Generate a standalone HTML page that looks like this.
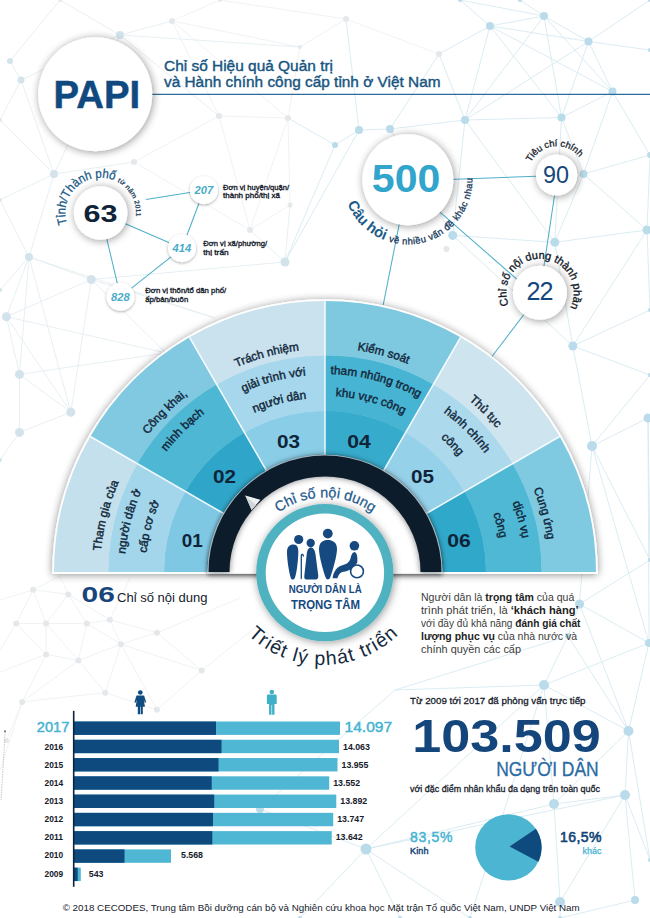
<!DOCTYPE html>
<html><head><meta charset="utf-8"><title>PAPI</title>
<style>
html,body{margin:0;padding:0;background:#fff;}
body{width:650px;height:918px;overflow:hidden;font-family:"Liberation Sans",sans-serif;}
svg{display:block;font-family:"Liberation Sans",sans-serif;}
</style></head><body>
<svg width="650" height="918" viewBox="0 0 650 918">
<defs>
<filter id="sh" x="-30%" y="-30%" width="160%" height="160%"><feGaussianBlur in="SourceAlpha" stdDeviation="4"/><feOffset dx="0.5" dy="1"/><feComponentTransfer><feFuncA type="linear" slope="0.42"/></feComponentTransfer><feMerge><feMergeNode/><feMergeNode in="SourceGraphic"/></feMerge></filter>
<filter id="sh3" x="-40%" y="-40%" width="180%" height="180%"><feGaussianBlur in="SourceAlpha" stdDeviation="1.6"/><feOffset dx="0" dy="0.5"/><feComponentTransfer><feFuncA type="linear" slope="0.35"/></feComponentTransfer><feMerge><feMergeNode/><feMergeNode in="SourceGraphic"/></feMerge></filter>
<filter id="sh4" x="-10%" y="-10%" width="120%" height="140%"><feGaussianBlur in="SourceAlpha" stdDeviation="2.2"/><feOffset dx="0" dy="1.5"/><feComponentTransfer><feFuncA type="linear" slope="0.55"/></feComponentTransfer><feMerge><feMergeNode/><feMergeNode in="SourceGraphic"/></feMerge></filter>
<filter id="sh5" x="-10%" y="-20%" width="120%" height="140%"><feGaussianBlur in="SourceAlpha" stdDeviation="3"/><feComponentTransfer><feFuncA type="linear" slope="0.5"/></feComponentTransfer><feMerge><feMergeNode/><feMergeNode in="SourceGraphic"/></feMerge></filter>
<filter id="sh2" x="-10%" y="-10%" width="120%" height="135%"><feGaussianBlur in="SourceAlpha" stdDeviation="4.2"/><feOffset dx="0" dy="1.2"/><feComponentTransfer><feFuncA type="linear" slope="0.45"/></feComponentTransfer><feMerge><feMergeNode/><feMergeNode in="SourceGraphic"/></feMerge></filter>

<path id="s00" d="M103.77 613A225 225 0 0 1 151.38 428.88"/>
<path id="s01" d="M127.86 608.54A200.5 200.5 0 0 1 170.29 444.47"/>
<path id="s02" d="M148.51 604.71A179.5 179.5 0 0 1 186.49 457.82"/>
<path id="s10" d="M114.51 495.39A224 224 0 0 1 248.39 361.51"/>
<path id="s11" d="M138 503.94A199 199 0 0 1 256.94 385"/>
<path id="s12" d="M159.61 511.8A176 176 0 0 1 264.8 406.61"/>
<path id="s20" d="M181.66 401.17A223 223 0 0 1 363.72 352.39"/>
<path id="s21" d="M198.05 420.71A197.5 197.5 0 0 1 359.3 377.5"/>
<path id="s22" d="M212.96 438.48A174.3 174.3 0 0 1 355.27 400.35"/>
<path id="s30" d="M286.1 351.4A224 224 0 0 1 468.98 400.41"/>
<path id="s31" d="M290.62 377.01A198 198 0 0 1 452.27 420.32"/>
<path id="s32" d="M294.44 398.67A176 176 0 0 1 438.13 437.18"/>
<path id="s40" d="M401.61 361.51A224 224 0 0 1 535.49 495.39"/>
<path id="s41" d="M393.06 385A199 199 0 0 1 512 503.94"/>
<path id="s42" d="M385.54 405.67A177 177 0 0 1 491.33 511.46"/>
<path id="s50" d="M496.98 427.69A224.5 224.5 0 0 1 546.09 610.98"/>
<path id="s51" d="M478.21 443.44A200 200 0 0 1 521.96 606.73"/>
<path id="s52" d="M461.36 457.58A178 178 0 0 1 500.3 602.91"/>
</defs>
<rect width="650" height="918" fill="#ffffff"/>
<g fill="none" stroke-width="0.9">
<line x1="60" y1="0" x2="120" y2="35" stroke="#e4edf2"/>
<line x1="120" y1="35" x2="172" y2="21" stroke="#e4edf2"/>
<line x1="120" y1="35" x2="21" y2="80" stroke="#e4edf2"/>
<line x1="10" y1="61" x2="21" y2="80" stroke="#e4edf2"/>
<line x1="21" y1="80" x2="54" y2="174" stroke="#e4edf2"/>
<line x1="10" y1="61" x2="60" y2="0" stroke="#e4edf2"/>
<line x1="120" y1="35" x2="219" y2="116" stroke="#e4edf2"/>
<line x1="172" y1="21" x2="220" y2="0" stroke="#eef0f2"/>
<line x1="172" y1="21" x2="300" y2="47" stroke="#eef0f2"/>
<line x1="172" y1="21" x2="219" y2="116" stroke="#eef0f2"/>
<line x1="219" y1="116" x2="288" y2="118" stroke="#eef0f2"/>
<line x1="300" y1="47" x2="288" y2="118" stroke="#eef0f2"/>
<line x1="219" y1="116" x2="134" y2="162" stroke="#eef0f2"/>
<line x1="134" y1="162" x2="54" y2="174" stroke="#e4edf2"/>
<line x1="54" y1="174" x2="0" y2="120" stroke="#e4edf2"/>
<line x1="21" y1="80" x2="0" y2="120" stroke="#e4edf2"/>
<line x1="120" y1="35" x2="54" y2="174" stroke="#e4edf2"/>
<line x1="288" y1="118" x2="290" y2="205" stroke="#eef0f2"/>
<line x1="219" y1="116" x2="250" y2="230" stroke="#eef0f2"/>
<line x1="250" y1="230" x2="290" y2="205" stroke="#eef0f2"/>
<line x1="250" y1="230" x2="285" y2="262" stroke="#e4edf2"/>
<line x1="290" y1="205" x2="285" y2="262" stroke="#e4edf2"/>
<line x1="288" y1="118" x2="335" y2="145" stroke="#d6eaf2"/>
<line x1="300" y1="47" x2="346" y2="19" stroke="#eef0f2"/>
<line x1="220" y1="0" x2="346" y2="19" stroke="#eef0f2"/>
<line x1="134" y1="162" x2="250" y2="230" stroke="#eef0f2"/>
<line x1="54" y1="174" x2="0" y2="200" stroke="#e4edf2"/>
<line x1="54" y1="174" x2="29" y2="257" stroke="#e4edf2"/>
<line x1="0" y1="200" x2="29" y2="257" stroke="#e4edf2"/>
<line x1="288" y1="118" x2="250" y2="230" stroke="#eef0f2"/>
<line x1="172" y1="21" x2="288" y2="118" stroke="#eef0f2"/>
<line x1="120" y1="35" x2="300" y2="47" stroke="#e4edf2"/>
<line x1="346" y1="19" x2="439" y2="54" stroke="#eef0f2"/>
<line x1="439" y1="54" x2="490" y2="26" stroke="#d6eaf2"/>
<line x1="490" y1="26" x2="544" y2="16" stroke="#d6eaf2"/>
<line x1="544" y1="16" x2="588.5" y2="41.5" stroke="#d6eaf2"/>
<line x1="588.5" y1="41.5" x2="612.5" y2="91.5" stroke="#d6eaf2"/>
<line x1="490" y1="26" x2="465" y2="120" stroke="#d6eaf2"/>
<line x1="490" y1="26" x2="588.5" y2="41.5" stroke="#d6eaf2"/>
<line x1="544" y1="16" x2="561.5" y2="117.5" stroke="#d6eaf2"/>
<line x1="588.5" y1="41.5" x2="561.5" y2="117.5" stroke="#d6eaf2"/>
<line x1="490" y1="26" x2="561.5" y2="117.5" stroke="#d6eaf2"/>
<line x1="612.5" y1="91.5" x2="561.5" y2="117.5" stroke="#d6eaf2"/>
<line x1="561.5" y1="117.5" x2="583.5" y2="174" stroke="#d6eaf2"/>
<line x1="465" y1="120" x2="561.5" y2="117.5" stroke="#d6eaf2"/>
<line x1="465" y1="120" x2="390" y2="129" stroke="#d6eaf2"/>
<line x1="390" y1="129" x2="359" y2="130" stroke="#d6eaf2"/>
<line x1="359" y1="130" x2="335" y2="145" stroke="#d6eaf2"/>
<line x1="439" y1="54" x2="465" y2="120" stroke="#d6eaf2"/>
<line x1="439" y1="54" x2="390" y2="129" stroke="#d6eaf2"/>
<line x1="346" y1="19" x2="359" y2="130" stroke="#d6eaf2"/>
<line x1="612.5" y1="91.5" x2="650" y2="155" stroke="#d6eaf2"/>
<line x1="588.5" y1="41.5" x2="650" y2="50" stroke="#d6eaf2"/>
<line x1="544" y1="16" x2="460" y2="0" stroke="#d6eaf2"/>
<line x1="490" y1="26" x2="460" y2="0" stroke="#d6eaf2"/>
<line x1="544" y1="16" x2="520" y2="0" stroke="#d6eaf2"/>
<line x1="588.5" y1="41.5" x2="650" y2="0" stroke="#d6eaf2"/>
<line x1="583.5" y1="174" x2="650" y2="155" stroke="#d6eaf2"/>
<line x1="583.5" y1="174" x2="554.8" y2="242.3" stroke="#d6eaf2"/>
<line x1="583.5" y1="174" x2="647" y2="230" stroke="#d6eaf2"/>
<line x1="465" y1="120" x2="452.7" y2="235.4" stroke="#d6eaf2"/>
<line x1="465" y1="120" x2="554.8" y2="242.3" stroke="#d6eaf2"/>
<line x1="452.7" y1="235.4" x2="554.8" y2="242.3" stroke="#d6eaf2"/>
<line x1="554.8" y1="242.3" x2="647" y2="230" stroke="#d6eaf2"/>
<line x1="554.8" y1="242.3" x2="572.8" y2="346" stroke="#d6eaf2"/>
<line x1="647" y1="230" x2="572.8" y2="346" stroke="#d6eaf2"/>
<line x1="452.7" y1="235.4" x2="572.8" y2="346" stroke="#d6eaf2"/>
<line x1="572.8" y1="346" x2="592" y2="446" stroke="#d6eaf2"/>
<line x1="572.8" y1="346" x2="650" y2="310" stroke="#d6eaf2"/>
<line x1="572.8" y1="346" x2="650" y2="375" stroke="#d6eaf2"/>
<line x1="592" y1="446" x2="648" y2="418" stroke="#d6eaf2"/>
<line x1="592" y1="446" x2="650" y2="375" stroke="#d6eaf2"/>
<line x1="647" y1="230" x2="650" y2="310" stroke="#d6eaf2"/>
<line x1="650" y1="155" x2="647" y2="230" stroke="#d6eaf2"/>
<line x1="390" y1="129" x2="452.7" y2="235.4" stroke="#d6eaf2"/>
<line x1="561.5" y1="117.5" x2="554.8" y2="242.3" stroke="#d6eaf2"/>
<line x1="612.5" y1="91.5" x2="583.5" y2="174" stroke="#d6eaf2"/>
<line x1="544" y1="16" x2="465" y2="120" stroke="#d6eaf2"/>
<line x1="588.5" y1="41.5" x2="465" y2="120" stroke="#d6eaf2"/>
<line x1="490" y1="26" x2="612.5" y2="91.5" stroke="#d6eaf2"/>
<line x1="544" y1="16" x2="612.5" y2="91.5" stroke="#d6eaf2"/>
<line x1="648" y1="418" x2="650" y2="560" stroke="#d6eaf2"/>
<line x1="592" y1="446" x2="649" y2="643" stroke="#d6eaf2"/>
<line x1="648" y1="418" x2="649" y2="643" stroke="#d6eaf2"/>
<line x1="649" y1="643" x2="544" y2="685" stroke="#d6eaf2"/>
<line x1="592" y1="446" x2="579.5" y2="604" stroke="#d6eaf2"/>
<line x1="592" y1="446" x2="650" y2="560" stroke="#d6eaf2"/>
<line x1="359" y1="130" x2="285" y2="262" stroke="#d6eaf2"/>
<line x1="335" y1="145" x2="285" y2="262" stroke="#d6eaf2"/>
<line x1="29" y1="257" x2="91.3" y2="279.5" stroke="#e4edf2"/>
<line x1="29" y1="257" x2="6.4" y2="316.7" stroke="#e4edf2"/>
<line x1="29" y1="257" x2="19.5" y2="374.4" stroke="#e4edf2"/>
<line x1="91.3" y1="279.5" x2="6.4" y2="316.7" stroke="#e4edf2"/>
<line x1="6.4" y1="316.7" x2="19.5" y2="374.4" stroke="#e4edf2"/>
<line x1="19.5" y1="374.4" x2="70.8" y2="412.2" stroke="#e4edf2"/>
<line x1="19.5" y1="374.4" x2="19.5" y2="432.4" stroke="#e4edf2"/>
<line x1="70.8" y1="412.2" x2="19.5" y2="432.4" stroke="#e4edf2"/>
<line x1="29" y1="257" x2="70.8" y2="412.2" stroke="#e4edf2"/>
<line x1="0" y1="290" x2="29" y2="257" stroke="#e4edf2"/>
<line x1="19.5" y1="432.4" x2="0" y2="460" stroke="#e4edf2"/>
<line x1="91.3" y1="279.5" x2="285" y2="262" stroke="#e4edf2"/>
<line x1="6.4" y1="316.7" x2="70.8" y2="412.2" stroke="#e4edf2"/>
<line x1="91.3" y1="279.5" x2="70.8" y2="412.2" stroke="#e4edf2"/>
<line x1="6.4" y1="316.7" x2="166" y2="353" stroke="#e4edf2"/>
<line x1="19.5" y1="374.4" x2="166" y2="353" stroke="#e4edf2"/>
<line x1="91.3" y1="279.5" x2="166" y2="353" stroke="#e4edf2"/>
<line x1="29" y1="257" x2="215" y2="318" stroke="#e4edf2"/>
<line x1="91.3" y1="279.5" x2="215" y2="318" stroke="#e4edf2"/>
<line x1="33.2" y1="589.8" x2="68.3" y2="594.4" stroke="#eef0f2"/>
<line x1="33.2" y1="589.8" x2="16.2" y2="623.5" stroke="#eef0f2"/>
<line x1="33.2" y1="589.8" x2="46.1" y2="623.5" stroke="#eef0f2"/>
<line x1="68.3" y1="594.4" x2="46.1" y2="623.5" stroke="#eef0f2"/>
<line x1="68.3" y1="594.4" x2="86.8" y2="623.5" stroke="#eef0f2"/>
<line x1="68.3" y1="594.4" x2="109.8" y2="619.8" stroke="#eef0f2"/>
<line x1="16.2" y1="623.5" x2="46.1" y2="623.5" stroke="#eef0f2"/>
<line x1="46.1" y1="623.5" x2="86.8" y2="623.5" stroke="#eef0f2"/>
<line x1="86.8" y1="623.5" x2="109.8" y2="619.8" stroke="#eef0f2"/>
<line x1="109.8" y1="619.8" x2="156.9" y2="632.7" stroke="#eef0f2"/>
<line x1="109.8" y1="619.8" x2="120.9" y2="644.2" stroke="#eef0f2"/>
<line x1="86.8" y1="623.5" x2="120.9" y2="644.2" stroke="#eef0f2"/>
<line x1="86.8" y1="623.5" x2="78.4" y2="660.4" stroke="#eef0f2"/>
<line x1="46.1" y1="623.5" x2="46.1" y2="654.4" stroke="#eef0f2"/>
<line x1="46.1" y1="623.5" x2="78.4" y2="660.4" stroke="#eef0f2"/>
<line x1="16.2" y1="623.5" x2="46.1" y2="654.4" stroke="#eef0f2"/>
<line x1="46.1" y1="654.4" x2="78.4" y2="660.4" stroke="#eef0f2"/>
<line x1="78.4" y1="660.4" x2="120.9" y2="644.2" stroke="#eef0f2"/>
<line x1="120.9" y1="644.2" x2="156.9" y2="632.7" stroke="#eef0f2"/>
<line x1="156.9" y1="632.7" x2="201.7" y2="670.5" stroke="#eef0f2"/>
<line x1="120.9" y1="644.2" x2="201.7" y2="670.5" stroke="#eef0f2"/>
<line x1="120.9" y1="644.2" x2="105.2" y2="692.7" stroke="#eef0f2"/>
<line x1="78.4" y1="660.4" x2="105.2" y2="692.7" stroke="#eef0f2"/>
<line x1="46.1" y1="654.4" x2="22.2" y2="701.9" stroke="#eef0f2"/>
<line x1="78.4" y1="660.4" x2="22.2" y2="701.9" stroke="#eef0f2"/>
<line x1="105.2" y1="692.7" x2="22.2" y2="701.9" stroke="#eef0f2"/>
<line x1="105.2" y1="692.7" x2="156.9" y2="709.8" stroke="#eef0f2"/>
<line x1="201.7" y1="670.5" x2="156.9" y2="709.8" stroke="#eef0f2"/>
<line x1="120.9" y1="644.2" x2="156.9" y2="709.8" stroke="#eef0f2"/>
<line x1="22.2" y1="701.9" x2="6.5" y2="740.5" stroke="#eef0f2"/>
<line x1="0" y1="600" x2="33.2" y2="589.8" stroke="#eef0f2"/>
<line x1="0" y1="650" x2="16.2" y2="623.5" stroke="#eef0f2"/>
<line x1="0" y1="672" x2="46.1" y2="654.4" stroke="#eef0f2"/>
<line x1="156.9" y1="632.7" x2="240" y2="598" stroke="#eef0f2"/>
<line x1="201.7" y1="670.5" x2="262" y2="622" stroke="#eef0f2"/>
<line x1="22.2" y1="701.9" x2="0" y2="770" stroke="#eef0f2"/>
<line x1="109.8" y1="619.8" x2="130" y2="578" stroke="#eef0f2"/>
<line x1="68.3" y1="594.4" x2="60" y2="576" stroke="#eef0f2"/>
<line x1="33.2" y1="589.8" x2="60" y2="576" stroke="#eef0f2"/>
<line x1="579.5" y1="604" x2="568" y2="636" stroke="#d6eaf2"/>
<line x1="568" y1="636" x2="544" y2="685" stroke="#d6eaf2"/>
<line x1="544" y1="685" x2="628.5" y2="731" stroke="#d6eaf2"/>
<line x1="628.5" y1="731" x2="625" y2="795" stroke="#d6eaf2"/>
<line x1="544" y1="685" x2="366" y2="849" stroke="#d6eaf2"/>
<line x1="544" y1="685" x2="395" y2="690" stroke="#d6eaf2"/>
<line x1="395" y1="690" x2="260" y2="809" stroke="#d6eaf2"/>
<line x1="366" y1="849" x2="260" y2="809" stroke="#d6eaf2"/>
<line x1="625" y1="795" x2="635" y2="900" stroke="#d6eaf2"/>
<line x1="579.5" y1="604" x2="649" y2="643" stroke="#d6eaf2"/>
<line x1="579.5" y1="604" x2="650" y2="560" stroke="#d6eaf2"/>
<line x1="628.5" y1="731" x2="649" y2="643" stroke="#d6eaf2"/>
<line x1="366" y1="849" x2="470" y2="918" stroke="#d6eaf2"/>
<line x1="366" y1="849" x2="400" y2="918" stroke="#d6eaf2"/>
<line x1="625" y1="795" x2="650" y2="860" stroke="#d6eaf2"/>
<line x1="635" y1="900" x2="560" y2="918" stroke="#d6eaf2"/>
<line x1="544" y1="685" x2="470" y2="918" stroke="#d6eaf2"/>
<line x1="628.5" y1="731" x2="650" y2="860" stroke="#d6eaf2"/>
<line x1="568" y1="636" x2="628.5" y2="731" stroke="#d6eaf2"/>
<line x1="625" y1="795" x2="366" y2="849" stroke="#d6eaf2"/>
<line x1="366" y1="849" x2="300" y2="918" stroke="#d6eaf2"/>
<line x1="579.5" y1="604" x2="628.5" y2="731" stroke="#d6eaf2"/>
<line x1="544" y1="685" x2="554" y2="804" stroke="#d6eaf2"/>
<line x1="554" y1="804" x2="560" y2="902" stroke="#d6eaf2"/>
<line x1="554" y1="804" x2="625" y2="795" stroke="#d6eaf2"/>
<line x1="625" y1="795" x2="560" y2="902" stroke="#d6eaf2"/>
<line x1="554" y1="804" x2="366" y2="849" stroke="#d6eaf2"/>
<line x1="628.5" y1="731" x2="554" y2="804" stroke="#d6eaf2"/>
<line x1="560" y1="902" x2="560" y2="918" stroke="#d6eaf2"/>
<line x1="568" y1="636" x2="395" y2="690" stroke="#d6eaf2"/>
</g>
<circle cx="120" cy="35" r="4" fill="#d3e3eb"/>
<circle cx="10" cy="61" r="3" fill="#d3e3eb"/>
<circle cx="21" cy="80" r="3.5" fill="#d3e3eb"/>
<circle cx="172" cy="21" r="3" fill="#e5e8eb"/>
<circle cx="219" cy="116" r="3" fill="#e5e8eb"/>
<circle cx="288" cy="118" r="3" fill="#e5e8eb"/>
<circle cx="134" cy="162" r="3" fill="#e5e8eb"/>
<circle cx="54" cy="174" r="4" fill="#d3e3eb"/>
<circle cx="220" cy="0" r="2" fill="#e5e8eb"/>
<circle cx="300" cy="47" r="2" fill="#e5e8eb"/>
<circle cx="0" cy="120" r="2" fill="#e5e8eb"/>
<circle cx="60" cy="0" r="2" fill="#e5e8eb"/>
<circle cx="250" cy="230" r="3" fill="#e5e8eb"/>
<circle cx="290" cy="205" r="2.5" fill="#e5e8eb"/>
<circle cx="285" cy="262" r="4.5" fill="#d3e3eb"/>
<circle cx="0" cy="200" r="2" fill="#e5e8eb"/>
<circle cx="346" cy="19" r="3" fill="#e5e8eb"/>
<circle cx="439" cy="54" r="3" fill="#e5e8eb"/>
<circle cx="490" cy="26" r="4" fill="#badcea"/>
<circle cx="544" cy="16" r="4" fill="#badcea"/>
<circle cx="588.5" cy="41.5" r="4" fill="#badcea"/>
<circle cx="612.5" cy="91.5" r="4" fill="#badcea"/>
<circle cx="561.5" cy="117.5" r="4" fill="#badcea"/>
<circle cx="465" cy="120" r="4" fill="#badcea"/>
<circle cx="390" cy="129" r="4" fill="#badcea"/>
<circle cx="359" cy="130" r="4" fill="#badcea"/>
<circle cx="335" cy="145" r="3" fill="#badcea"/>
<circle cx="583.5" cy="174" r="4" fill="#badcea"/>
<circle cx="650" cy="155" r="3" fill="#badcea"/>
<circle cx="452.7" cy="235.4" r="4.5" fill="#badcea"/>
<circle cx="554.8" cy="242.3" r="4.5" fill="#badcea"/>
<circle cx="647" cy="230" r="4.5" fill="#badcea"/>
<circle cx="572.8" cy="346" r="4.5" fill="#badcea"/>
<circle cx="592" cy="446" r="5" fill="#badcea"/>
<circle cx="648" cy="418" r="4.5" fill="#badcea"/>
<circle cx="446.5" cy="249" r="3" fill="#e5e8eb"/>
<circle cx="650" cy="50" r="2" fill="#badcea"/>
<circle cx="460" cy="0" r="2" fill="#badcea"/>
<circle cx="650" cy="310" r="2" fill="#badcea"/>
<circle cx="650" cy="375" r="2" fill="#badcea"/>
<circle cx="520" cy="0" r="2" fill="#badcea"/>
<circle cx="650" cy="0" r="2" fill="#badcea"/>
<circle cx="29" cy="257" r="4" fill="#d3e3eb"/>
<circle cx="91.3" cy="279.5" r="4.5" fill="#d3e3eb"/>
<circle cx="6.4" cy="316.7" r="4.5" fill="#d3e3eb"/>
<circle cx="19.5" cy="374.4" r="4.5" fill="#d3e3eb"/>
<circle cx="70.8" cy="412.2" r="4.5" fill="#d3e3eb"/>
<circle cx="19.5" cy="432.4" r="4.5" fill="#d3e3eb"/>
<circle cx="0" cy="290" r="2" fill="#d3e3eb"/>
<circle cx="166" cy="353" r="0" fill="#d3e3eb"/>
<circle cx="215" cy="318" r="0" fill="#d3e3eb"/>
<circle cx="0" cy="460" r="2" fill="#d3e3eb"/>
<circle cx="33.2" cy="589.8" r="3" fill="#e5e8eb"/>
<circle cx="68.3" cy="594.4" r="3" fill="#e5e8eb"/>
<circle cx="16.2" cy="623.5" r="3" fill="#e5e8eb"/>
<circle cx="46.1" cy="623.5" r="3" fill="#e5e8eb"/>
<circle cx="86.8" cy="623.5" r="3" fill="#e5e8eb"/>
<circle cx="109.8" cy="619.8" r="3" fill="#e5e8eb"/>
<circle cx="156.9" cy="632.7" r="3" fill="#e5e8eb"/>
<circle cx="120.9" cy="644.2" r="3" fill="#e5e8eb"/>
<circle cx="46.1" cy="654.4" r="3" fill="#e5e8eb"/>
<circle cx="78.4" cy="660.4" r="3" fill="#e5e8eb"/>
<circle cx="201.7" cy="670.5" r="3" fill="#e5e8eb"/>
<circle cx="105.2" cy="692.7" r="3" fill="#e5e8eb"/>
<circle cx="22.2" cy="701.9" r="3" fill="#e5e8eb"/>
<circle cx="156.9" cy="709.8" r="3" fill="#e5e8eb"/>
<circle cx="6.5" cy="740.5" r="2.5" fill="#e5e8eb"/>
<circle cx="0" cy="600" r="0" fill="#e5e8eb"/>
<circle cx="0" cy="650" r="0" fill="#e5e8eb"/>
<circle cx="0" cy="672" r="0" fill="#e5e8eb"/>
<circle cx="240" cy="598" r="0" fill="#e5e8eb"/>
<circle cx="262" cy="622" r="0" fill="#e5e8eb"/>
<circle cx="0" cy="770" r="0" fill="#e5e8eb"/>
<circle cx="130" cy="578" r="0" fill="#e5e8eb"/>
<circle cx="60" cy="576" r="0" fill="#e5e8eb"/>
<circle cx="579.5" cy="604" r="4.5" fill="#badcea"/>
<circle cx="568" cy="636" r="3" fill="#badcea"/>
<circle cx="544" cy="685" r="5" fill="#badcea"/>
<circle cx="628.5" cy="731" r="5" fill="#badcea"/>
<circle cx="625" cy="795" r="5" fill="#badcea"/>
<circle cx="366" cy="849" r="5.5" fill="#badcea"/>
<circle cx="260" cy="809" r="4" fill="#badcea"/>
<circle cx="635" cy="900" r="4" fill="#badcea"/>
<circle cx="649" cy="643" r="4" fill="#badcea"/>
<circle cx="650" cy="560" r="2" fill="#badcea"/>
<circle cx="470" cy="918" r="2" fill="#badcea"/>
<circle cx="400" cy="918" r="2" fill="#badcea"/>
<circle cx="650" cy="860" r="2" fill="#badcea"/>
<circle cx="560" cy="918" r="2" fill="#badcea"/>
<circle cx="395" cy="690" r="0" fill="#badcea"/>
<circle cx="300" cy="918" r="2" fill="#badcea"/>
<circle cx="554" cy="804" r="5" fill="#badcea"/>
<circle cx="560" cy="902" r="5" fill="#badcea"/>
<path d="M5 731.5L3.5 760L1 800" fill="none" stroke="#8f8f8f" stroke-width="0.5" stroke-dasharray="1.5 1"/><circle cx="5" cy="731.3" r="1.1" fill="#777"/>
<line x1="150" y1="94.3" x2="650" y2="94.3" stroke="#2b6c9c" stroke-width="1.3"/>
<circle cx="95.2" cy="94.2" r="57" fill="#fff" filter="url(#sh)"/>
<text x="53.6" y="107.9" font-size="39.4" font-weight="700" fill="#10497f" stroke="#10497f" stroke-width="0.5" textLength="86.5" lengthAdjust="spacingAndGlyphs">PAPI</text>
<text x="164" y="70.8" font-size="15.3" fill="#16557f" stroke="#16557f" stroke-width="0.4" textLength="169" lengthAdjust="spacingAndGlyphs">Chỉ số Hiệu quả Quản trị</text>
<text x="164" y="86.9" font-size="15.3" fill="#16557f" stroke="#16557f" stroke-width="0.4" textLength="276.5" lengthAdjust="spacingAndGlyphs">và Hành chính công cấp tỉnh ở Việt Nam</text>
<g stroke="#4fb0c9" stroke-width="1.05" fill="none">
<line x1="146" y1="199.6" x2="203.9" y2="190.2"/>
<line x1="100.6" y1="213" x2="182" y2="248.2"/>
<line x1="100.6" y1="213" x2="120.5" y2="296.7"/>
<line x1="203.9" y1="190.2" x2="182" y2="248.2"/>
<line x1="182" y1="248.2" x2="120.5" y2="296.8"/>
<line x1="407" y1="181" x2="557.6" y2="175.5"/>
<line x1="557.6" y1="175" x2="540" y2="292.5"/>
<line x1="407" y1="183.3" x2="540" y2="299.4"/>
<line x1="408.2" y1="179" x2="383.2" y2="305"/>
<line x1="540" y1="293.5" x2="488" y2="361.7"/>
</g>
<g filter="url(#sh2)">
<path d="M52.3 573.8L52.3 572A272.7 272.7 0 0 1 597.7 572L597.7 573.8Z" fill="#fff"/>
</g>
<path d="M163.7 572A161.3 161.3 0 0 1 185.31 491.35L224.97 514.25A115.5 115.5 0 0 0 209.5 572Z" fill="#7fc8e4"/>
<path d="M108 572A217 217 0 0 1 137.07 463.5L185.74 491.6A160.8 160.8 0 0 0 164.2 572Z" fill="#a4d6eb"/>
<path d="M54 572A271 271 0 0 1 90.31 436.5L137.51 463.75A216.5 216.5 0 0 0 108.5 572Z" fill="#c3e0ec"/>
<path d="M185.31 491.35A161.3 161.3 0 0 1 244.35 432.31L267.25 471.97A115.5 115.5 0 0 0 224.97 514.25Z" fill="#2fa6c9"/>
<path d="M137.07 463.5A217 217 0 0 1 216.5 384.07L244.6 432.74A160.8 160.8 0 0 0 185.74 491.6Z" fill="#4eb7d4"/>
<path d="M90.31 436.5A271 271 0 0 1 189.5 337.31L216.75 384.51A216.5 216.5 0 0 0 137.51 463.75Z" fill="#80c9e0"/>
<path d="M244.35 432.31A161.3 161.3 0 0 1 325 410.7L325 456.5A115.5 115.5 0 0 0 267.25 471.97Z" fill="#8acde7"/>
<path d="M216.5 384.07A217 217 0 0 1 325 355L325 411.2A160.8 160.8 0 0 0 244.6 432.74Z" fill="#a7d7ec"/>
<path d="M189.5 337.31A271 271 0 0 1 325 301L325 355.5A216.5 216.5 0 0 0 216.75 384.51Z" fill="#c9e2ee"/>
<path d="M325 410.7A161.3 161.3 0 0 1 405.65 432.31L382.75 471.97A115.5 115.5 0 0 0 325 456.5Z" fill="#37abcc"/>
<path d="M325 355A217 217 0 0 1 433.5 384.07L405.4 432.74A160.8 160.8 0 0 0 325 411.2Z" fill="#48b4d3"/>
<path d="M325 301A271 271 0 0 1 460.5 337.31L433.25 384.51A216.5 216.5 0 0 0 325 355.5Z" fill="#7ec8e0"/>
<path d="M405.65 432.31A161.3 161.3 0 0 1 464.69 491.35L425.03 514.25A115.5 115.5 0 0 0 382.75 471.97Z" fill="#96d1ea"/>
<path d="M433.5 384.07A217 217 0 0 1 512.93 463.5L464.26 491.6A160.8 160.8 0 0 0 405.4 432.74Z" fill="#add9ed"/>
<path d="M460.5 337.31A271 271 0 0 1 559.69 436.5L512.49 463.75A216.5 216.5 0 0 0 433.25 384.51Z" fill="#cee4ef"/>
<path d="M464.69 491.35A161.3 161.3 0 0 1 486.3 572L440.5 572A115.5 115.5 0 0 0 425.03 514.25Z" fill="#30a8ca"/>
<path d="M512.93 463.5A217 217 0 0 1 542 572L485.8 572A160.8 160.8 0 0 0 464.26 491.6Z" fill="#4fb8d5"/>
<path d="M559.69 436.5A271 271 0 0 1 596 572L541.5 572A216.5 216.5 0 0 0 512.49 463.75Z" fill="#80cae1"/>
<line x1="224.54" y1="514" x2="90.31" y2="436.5" stroke="#ffffff" stroke-opacity="0.9" stroke-width="1.5"/>
<line x1="267" y1="471.54" x2="189.5" y2="337.31" stroke="#ffffff" stroke-opacity="0.9" stroke-width="1.5"/>
<line x1="325" y1="456" x2="325" y2="301" stroke="#ffffff" stroke-opacity="0.9" stroke-width="1.5"/>
<line x1="383" y1="471.54" x2="460.5" y2="337.31" stroke="#ffffff" stroke-opacity="0.9" stroke-width="1.5"/>
<line x1="425.46" y1="514" x2="559.69" y2="436.5" stroke="#ffffff" stroke-opacity="0.9" stroke-width="1.5"/>
<rect x="52.3" y="572" width="545.4" height="1.8" fill="#fff"/>
<g filter="url(#sh4)">
<path d="M207.6 573.6L207.6 572A117.4 117.4 0 0 1 442.4 572L442.4 573.6Z" fill="#e8f2f6"/>
</g>
<path d="M229.5 573.6L229.5 572A95.5 95.5 0 0 1 420.5 572L420.5 573.6Z" fill="#fff"/>
<clipPath id="cfan"><rect x="0" y="280" width="650" height="293.6"/></clipPath>
<g clip-path="url(#cfan)"><g filter="url(#sh5)">
<path d="M208.5 572A116.5 116.5 0 0 1 441.5 572L420.5 572A95.5 95.5 0 0 0 229.5 572Z" fill="#0b1c2b"/>
</g></g>
<path d="M245.3 495.6L260.4 499.8L251.6 510Z" fill="#eef1f3"/>
<path d="M245.3 495.6L256 505L251.6 510Z" fill="#cfd6da"/>
<text font-size="11.8" fill="#13283b" stroke="#13283b" stroke-width="0.42"><textPath href="#s00" startOffset="50%" text-anchor="middle">Tham gia của</textPath></text>
<text font-size="11.8" fill="#13283b" stroke="#13283b" stroke-width="0.42"><textPath href="#s01" startOffset="50%" text-anchor="middle">người dân ở</textPath></text>
<text font-size="11.8" fill="#13283b" stroke="#13283b" stroke-width="0.42"><textPath href="#s02" startOffset="50%" text-anchor="middle">cấp cơ sở</textPath></text>
<text font-size="11.8" fill="#13283b" stroke="#13283b" stroke-width="0.42"><textPath href="#s10" startOffset="50%" text-anchor="middle">Công khai,</textPath></text>
<text font-size="11.8" fill="#13283b" stroke="#13283b" stroke-width="0.42"><textPath href="#s11" startOffset="50%" text-anchor="middle">minh bạch</textPath></text>
<text font-size="11.8" fill="#13283b" stroke="#13283b" stroke-width="0.42"><textPath href="#s20" startOffset="50%" text-anchor="middle">Trách nhiệm</textPath></text>
<text font-size="11.8" fill="#13283b" stroke="#13283b" stroke-width="0.42"><textPath href="#s21" startOffset="50%" text-anchor="middle">giải trình với</textPath></text>
<text font-size="11.8" fill="#13283b" stroke="#13283b" stroke-width="0.42"><textPath href="#s22" startOffset="50%" text-anchor="middle">người dân</textPath></text>
<text font-size="11.8" fill="#13283b" stroke="#13283b" stroke-width="0.42"><textPath href="#s30" startOffset="50%" text-anchor="middle">Kiểm soát</textPath></text>
<text font-size="11.8" fill="#13283b" stroke="#13283b" stroke-width="0.42"><textPath href="#s31" startOffset="50%" text-anchor="middle">tham nhũng trong</textPath></text>
<text font-size="11.8" fill="#13283b" stroke="#13283b" stroke-width="0.42"><textPath href="#s32" startOffset="50%" text-anchor="middle">khu vực công</textPath></text>
<text font-size="11.8" fill="#13283b" stroke="#13283b" stroke-width="0.42"><textPath href="#s40" startOffset="50%" text-anchor="middle">Thủ tục</textPath></text>
<text font-size="11.8" fill="#13283b" stroke="#13283b" stroke-width="0.42"><textPath href="#s41" startOffset="50%" text-anchor="middle">hành chính</textPath></text>
<text font-size="11.8" fill="#13283b" stroke="#13283b" stroke-width="0.42"><textPath href="#s42" startOffset="50%" text-anchor="middle">công</textPath></text>
<text font-size="11.8" fill="#13283b" stroke="#13283b" stroke-width="0.42"><textPath href="#s50" startOffset="50%" text-anchor="middle">Cung ứng</textPath></text>
<text font-size="11.8" fill="#13283b" stroke="#13283b" stroke-width="0.42"><textPath href="#s51" startOffset="50%" text-anchor="middle">dịch vụ</textPath></text>
<text font-size="11.8" fill="#13283b" stroke="#13283b" stroke-width="0.42"><textPath href="#s52" startOffset="50%" text-anchor="middle">công</textPath></text>
<text x="181.8" y="547.2" font-size="17.8" font-weight="700" fill="#0f2439" textLength="21" lengthAdjust="spacingAndGlyphs">01</text>
<text x="212.9" y="483.4" font-size="17.8" font-weight="700" fill="#0f2439" textLength="23" lengthAdjust="spacingAndGlyphs">02</text>
<text x="276.9" y="447.6" font-size="17.8" font-weight="700" fill="#0f2439" textLength="23" lengthAdjust="spacingAndGlyphs">03</text>
<text x="347.25" y="447.6" font-size="17.8" font-weight="700" fill="#0f2439" textLength="23.5" lengthAdjust="spacingAndGlyphs">04</text>
<text x="411" y="483" font-size="17.8" font-weight="700" fill="#0f2439" textLength="23" lengthAdjust="spacingAndGlyphs">05</text>
<text x="447.25" y="546.7" font-size="17.8" font-weight="700" fill="#0f2439" textLength="23.5" lengthAdjust="spacingAndGlyphs">06</text>
<circle cx="324.8" cy="572.7" r="68.6" fill="#50b2c1" filter="url(#sh)"/><circle cx="324.9" cy="572.7" r="59.2" fill="#fff"/>
<g fill="#16497f">
<circle cx="298.7" cy="539.5" r="4.6"/>
<path d="M287 552C287 546.3 290.5 544.6 293.6 544.6C297.3 544.6 298.6 548 298.3 553C298 562 296.6 574 294.8 578C293.8 580 291.6 580 290.8 578C289 572 287 560 287 552Z"/>
<path d="M301.3 578.6L301.3 556.4Q301.3 554 302.7 554.4L303.4 556" fill="none" stroke="#16497f" stroke-width="1.3" stroke-linecap="round"/>
<circle cx="310.7" cy="543" r="4.2"/>
<path d="M310.9 547.6C313.4 547.6 314.6 550 315.4 553.5L318.2 575C318.6 578.6 317.2 579.6 315 579.6L307.2 579.6C305 579.6 303.9 578.6 304.4 575L306.8 553.5C307.4 550 308.5 547.6 310.9 547.6Z"/>
<circle cx="327.8" cy="533.6" r="4.9"/>
<path d="M319 549C319 542.5 323 540 327.8 540C332.6 540 337 542.5 337 549C337 556 332.2 572 330.2 577.6C329.2 580.2 326.6 580.2 325.6 577.6C323.5 572 319 556 319 549Z"/>
<circle cx="354.4" cy="545.8" r="4.8"/>
<path d="M354.8 552C356.8 552.7 357.8 556.8 357.3 562.4L355.9 564.5C353.4 566.5 350.6 570.7 345.1 571.4C340.9 571.8 338.8 573.5 337.5 578.3L332.6 578.3C333.3 572.1 336.8 566.5 342.3 565.2C346.5 564.2 349.2 562.4 350.6 558.2C351.3 554.8 352.7 552 354.8 552Z"/>
<circle cx="357" cy="571.4" r="6.4" fill="#fff" stroke="#16497f" stroke-width="1.6"/>
</g>
<text x="288.7" y="592.9" font-size="10.4" font-weight="700" fill="#16497f" textLength="73" lengthAdjust="spacingAndGlyphs">NGƯỜI DÂN LÀ</text>
<text x="291" y="609" font-size="11.9" font-weight="700" fill="#16497f" textLength="69" lengthAdjust="spacingAndGlyphs">TRỌNG TÂM</text>
<path id="cs" d="M246.81 563.34A79.8 79.8 0 0 1 403.99 563.34" fill="none"/>
<text font-size="14.4" fill="#1f5a8c" stroke="#1f5a8c" stroke-width="0.25"><textPath href="#cs" startOffset="50%" text-anchor="middle">Chỉ số nội dung</textPath></text>
<path id="tl" d="M247.97 635.07A109 109 0 0 0 417.4 610.5" fill="none"/>
<text font-size="19.5" fill="#14293d"><textPath href="#tl" startOffset="0" textLength="166" lengthAdjust="spacing">Triết lý phát triển</textPath></text>
<circle cx="100.6" cy="213" r="26.8" fill="#fff" filter="url(#sh)"/>
<text x="83.4" y="221.8" font-size="23.6" font-weight="700" fill="#0f2439" textLength="34" lengthAdjust="spacingAndGlyphs">63</text>
<circle cx="203.9" cy="190.2" r="14" fill="#fff" filter="url(#sh3)"/>
<text x="194.5" y="194.2" font-size="11.4" font-style="italic" font-weight="700" fill="#49abc8" textLength="18.6" lengthAdjust="spacingAndGlyphs">207</text>
<circle cx="182" cy="248.2" r="14" fill="#fff" filter="url(#sh3)"/>
<text x="172.6" y="252.2" font-size="11.4" font-style="italic" font-weight="700" fill="#49abc8" textLength="18.6" lengthAdjust="spacingAndGlyphs">414</text>
<circle cx="120.5" cy="296.8" r="14" fill="#fff" filter="url(#sh3)"/>
<text x="111.1" y="300.8" font-size="11.4" font-style="italic" font-weight="700" fill="#49abc8" textLength="18.6" lengthAdjust="spacingAndGlyphs">828</text>
<text x="223" y="190" font-size="8" fill="#15202b" stroke="#15202b" stroke-width="0.35" textLength="66" lengthAdjust="spacingAndGlyphs">Đơn vị huyện/quận/</text>
<text x="223" y="198.1" font-size="8" fill="#15202b" stroke="#15202b" stroke-width="0.35" textLength="57" lengthAdjust="spacingAndGlyphs">thành phố/thị xã</text>
<text x="203.2" y="246.3" font-size="8" fill="#15202b" stroke="#15202b" stroke-width="0.35" textLength="64" lengthAdjust="spacingAndGlyphs">Đơn vị xã/phường/</text>
<text x="203.2" y="254.6" font-size="8" fill="#15202b" stroke="#15202b" stroke-width="0.35" textLength="25.5" lengthAdjust="spacingAndGlyphs">thị trấn</text>
<text x="145.2" y="292.6" font-size="8" fill="#15202b" stroke="#15202b" stroke-width="0.35" textLength="81" lengthAdjust="spacingAndGlyphs">Đơn vị thôn/tổ dân phố/</text>
<text x="145.2" y="301.8" font-size="8" fill="#15202b" stroke="#15202b" stroke-width="0.35" textLength="43" lengthAdjust="spacingAndGlyphs">ấp/bản/buôn</text>
<path id="p63" d="M67.03 223.91A35.3 35.3 0 1 1 127.64 235.69" fill="none"/>
<text font-size="12.6" fill="#1a5b87" stroke="#1a5b87" stroke-width="0.3"><textPath href="#p63" startOffset="0" textLength="80.5" lengthAdjust="spacingAndGlyphs">Tỉnh/Thành phố</textPath></text>
<text font-size="7.2" font-weight="700" fill="#163a5c"><textPath href="#p63" startOffset="83.48" textLength="41.5" lengthAdjust="spacingAndGlyphs">từ năm 2011</textPath></text>
<circle cx="407.8" cy="179.8" r="45.5" fill="#fff" filter="url(#sh)"/>
<text x="371.8" y="191.8" font-size="38" font-weight="700" fill="#32a5cc" textLength="68.5" lengthAdjust="spacingAndGlyphs">500</text>
<path id="p500" d="M347.02 202.61A64.8 64.8 0 0 0 468.49 157.44" fill="none"/>
<text font-size="14.8" fill="#1a5b87" font-weight="700"><textPath href="#p500" startOffset="1" textLength="53.5" lengthAdjust="spacingAndGlyphs">Câu hỏi</textPath></text>
<text font-size="9.4" fill="#163a5c" stroke="#163a5c" stroke-width="0.3"><textPath href="#p500" startOffset="58.7" textLength="122.5" lengthAdjust="spacing">về nhiều vấn đề khác nhau</textPath></text>
<circle cx="556.6" cy="175" r="20.6" fill="#fff" filter="url(#sh)"/>
<text x="543" y="182.9" font-size="23.5" fill="#17467d" textLength="26" lengthAdjust="spacingAndGlyphs">90</text>
<path id="p90" d="M530.91 187.63A28.8 28.8 0 1 1 584.74 181.97" fill="none"/>
<text font-size="9.3" fill="#15202b" stroke="#15202b" stroke-width="0.3"><textPath href="#p90" startOffset="50%" text-anchor="middle">Tiêu chí chính</textPath></text>
<circle cx="539.9" cy="292.8" r="27" fill="#fff" filter="url(#sh)"/>
<text x="526.6" y="300.3" font-size="25.2" fill="#17467d" textLength="26.8">22</text>
<path id="p22" d="M517.17 317.52A33.8 33.8 0 1 1 560.58 319.42" fill="none"/>
<text font-size="11" fill="#15202b" stroke="#15202b" stroke-width="0.35"><textPath href="#p22" startOffset="50%" text-anchor="middle">Chỉ số nội dung thành phần</textPath></text>
<text x="81.5" y="601.6" font-size="21.8" font-weight="700" fill="#17467d" textLength="33.3" lengthAdjust="spacingAndGlyphs">06</text>
<text x="117" y="601.5" font-size="12.8" fill="#15202b" textLength="90.5" lengthAdjust="spacingAndGlyphs">Chỉ số nội dung</text>
<text x="421" y="600.5" font-size="10.6" fill="#3b3b3b" textLength="153.3" lengthAdjust="spacingAndGlyphs">Người dân là <tspan font-weight="700" fill="#1e1e1e">trọng tâm</tspan> của quá</text>
<text x="421" y="613.7" font-size="10.6" fill="#3b3b3b" textLength="157.7" lengthAdjust="spacingAndGlyphs">trình phát triển, là <tspan font-weight="700" fill="#1e1e1e">‘khách hàng’</tspan></text>
<text x="421" y="626.9" font-size="10.6" fill="#3b3b3b" textLength="159.4" lengthAdjust="spacingAndGlyphs">với đầy đủ khả năng <tspan font-weight="700" fill="#1e1e1e">đánh giá chất</tspan></text>
<text x="421" y="640.1" font-size="10.6" fill="#3b3b3b" textLength="156" lengthAdjust="spacingAndGlyphs"><tspan font-weight="700" fill="#1e1e1e">lượng phục vụ</tspan> của nhà nước và</text>
<text x="421" y="653.3" font-size="10.6" fill="#3b3b3b" textLength="100" lengthAdjust="spacingAndGlyphs">chính quyền các cấp</text>
<rect x="74" y="721.5" width="266" height="13.4" fill="#4fb7d3"/>
<rect x="74" y="721.5" width="142" height="13.4" fill="#0f4a7f"/>
<text x="36.8" y="731.5" font-size="13.8" fill="#45b3d2" stroke="#45b3d2" stroke-width="0.45" textLength="32.6" lengthAdjust="spacingAndGlyphs">2017</text>
<text x="344.6" y="732" font-size="14.2" fill="#45b3d2" stroke="#45b3d2" stroke-width="0.45" textLength="47.5" lengthAdjust="spacingAndGlyphs">14.097</text>
<rect x="74" y="739.77" width="265" height="13.4" fill="#4fb7d3"/>
<rect x="74" y="739.77" width="147.5" height="13.4" fill="#0f4a7f"/>
<text x="44.5" y="749.64" font-size="8.8" font-weight="700" fill="#15202b" textLength="18.6" lengthAdjust="spacingAndGlyphs">2016</text>
<text x="343" y="749.64" font-size="8.8" font-weight="700" fill="#15202b">14.063</text>
<rect x="74" y="758.04" width="263.5" height="13.4" fill="#4fb7d3"/>
<rect x="74" y="758.04" width="144.5" height="13.4" fill="#0f4a7f"/>
<text x="44.5" y="767.78" font-size="8.8" font-weight="700" fill="#15202b" textLength="18.6" lengthAdjust="spacingAndGlyphs">2015</text>
<text x="341.5" y="767.78" font-size="8.8" font-weight="700" fill="#15202b">13.955</text>
<rect x="74" y="776.31" width="255.2" height="13.4" fill="#4fb7d3"/>
<rect x="74" y="776.31" width="137.7" height="13.4" fill="#0f4a7f"/>
<text x="44.5" y="785.92" font-size="8.8" font-weight="700" fill="#15202b" textLength="18.6" lengthAdjust="spacingAndGlyphs">2014</text>
<text x="333.2" y="785.92" font-size="8.8" font-weight="700" fill="#15202b">13.552</text>
<rect x="74" y="794.58" width="262.3" height="13.4" fill="#4fb7d3"/>
<rect x="74" y="794.58" width="140.2" height="13.4" fill="#0f4a7f"/>
<text x="44.5" y="804.06" font-size="8.8" font-weight="700" fill="#15202b" textLength="18.6" lengthAdjust="spacingAndGlyphs">2013</text>
<text x="340.3" y="804.06" font-size="8.8" font-weight="700" fill="#15202b">13.892</text>
<rect x="74" y="812.85" width="259.2" height="13.4" fill="#4fb7d3"/>
<rect x="74" y="812.85" width="139" height="13.4" fill="#0f4a7f"/>
<text x="44.5" y="822.2" font-size="8.8" font-weight="700" fill="#15202b" textLength="18.6" lengthAdjust="spacingAndGlyphs">2012</text>
<text x="337.2" y="822.2" font-size="8.8" font-weight="700" fill="#15202b">13.747</text>
<rect x="74" y="831.12" width="257.7" height="13.4" fill="#4fb7d3"/>
<rect x="74" y="831.12" width="138.3" height="13.4" fill="#0f4a7f"/>
<text x="44.5" y="840.34" font-size="8.8" font-weight="700" fill="#15202b" textLength="18.6" lengthAdjust="spacingAndGlyphs">2011</text>
<text x="335.7" y="840.34" font-size="8.8" font-weight="700" fill="#15202b">13.642</text>
<rect x="74" y="849.39" width="97" height="13.4" fill="#4fb7d3"/>
<rect x="74" y="849.39" width="50.5" height="13.4" fill="#0f4a7f"/>
<text x="44.5" y="858.48" font-size="8.8" font-weight="700" fill="#15202b" textLength="18.6" lengthAdjust="spacingAndGlyphs">2010</text>
<text x="181" y="858.48" font-size="8.8" font-weight="700" fill="#15202b">5.568</text>
<rect x="74" y="867.66" width="6.8" height="13.4" fill="#4fb7d3"/>
<rect x="74" y="867.66" width="3.7" height="13.4" fill="#0f4a7f"/>
<text x="44.5" y="876.62" font-size="8.8" font-weight="700" fill="#15202b" textLength="18.6" lengthAdjust="spacingAndGlyphs">2009</text>
<text x="88.8" y="876.62" font-size="8.8" font-weight="700" fill="#15202b">543</text>
<rect x="72.9" y="710.8" width="1.6" height="176" fill="#0f2439"/>
<g fill="#0f4c81" transform="translate(140.3,690)"><circle cx="0" cy="2.5" r="2.35"/><path d="M-3.8 5.4L3.8 5.4L5.9 12.2L4.7 12.7L3.6 10L4.6 16.8L2.5 16.8L2.5 24.2L0.3 24.2L0.3 16.8L-0.3 16.8L-0.3 24.2L-2.5 24.2L-2.5 16.8L-4.6 16.8L-3.6 10L-4.7 12.7L-5.9 12.2Z"/></g>
<g fill="#3fb0c8" transform="translate(271.8,690)"><circle cx="0" cy="2" r="2.25"/><path d="M-4.9 5.8Q-4.9 4.6 -3.7 4.6L3.7 4.6Q4.9 4.6 4.9 5.8L4.9 14L2.7 14L2.7 24.8L0.3 24.8L0.3 15L-0.3 15L-0.3 24.8L-2.7 24.8L-2.7 14L-4.9 14Z"/></g>
<text x="410" y="704.4" font-size="9.2" fill="#15202b" stroke="#15202b" stroke-width="0.28" textLength="175.5" lengthAdjust="spacingAndGlyphs">Từ 2009 tới 2017 đã phỏng vấn trực tiếp</text>
<text x="412.3" y="752" font-size="45.3" font-weight="700" fill="#14467c" textLength="188.5" lengthAdjust="spacingAndGlyphs">103.509</text>
<text x="496.2" y="776.4" font-size="19.8" fill="#2a6ba3" stroke="#2a6ba3" stroke-width="0.3" textLength="102.5" lengthAdjust="spacingAndGlyphs">NGƯỜI DÂN</text>
<text x="410" y="791.7" font-size="9.2" fill="#15202b" stroke="#15202b" stroke-width="0.28" textLength="190" lengthAdjust="spacingAndGlyphs">với đặc điểm nhân khẩu đa dạng trên toàn quốc</text>
<circle cx="508.4" cy="847.4" r="33.2" fill="#4cb5d1"/>
<path d="M509.59999999999997 846.6L535.92 828.83A33.2 33.2 0 0 1 538.39 861.64Z" fill="#0e4a7e"/>
<text x="410" y="841.8" font-size="14" fill="#45b3d2" stroke="#45b3d2" stroke-width="0.45" textLength="42.5" lengthAdjust="spacing">83,5%</text>
<text x="410" y="853.6" font-size="9" fill="#114578" stroke="#114578" stroke-width="0.4" textLength="18.5" lengthAdjust="spacing">Kinh</text>
<text x="560" y="841.8" font-size="14" fill="#114578" stroke="#114578" stroke-width="0.6" textLength="41.5" lengthAdjust="spacing">16,5%</text>
<text x="601.4" y="853.6" font-size="9" fill="#45b3d2" stroke="#45b3d2" stroke-width="0.25" text-anchor="end">khác</text>
<text x="62.7" y="911" font-size="9.3" fill="#15202b" textLength="517" lengthAdjust="spacingAndGlyphs">© 2018 CECODES, Trung tâm Bồi dưỡng cán bộ và Nghiên cứu khoa học Mặt trận Tổ quốc Việt Nam, UNDP Việt Nam</text>
</svg></body></html>
